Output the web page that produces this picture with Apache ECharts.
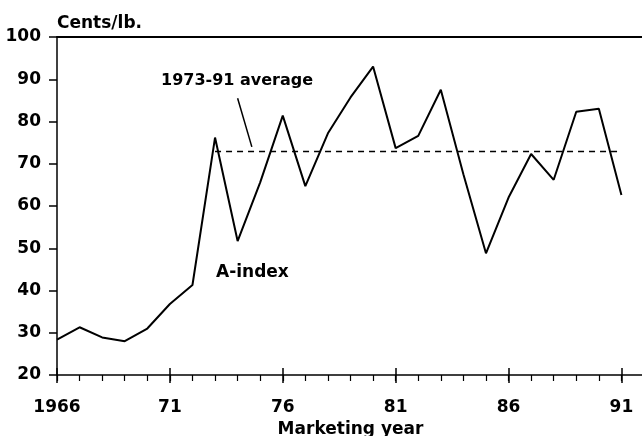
<!DOCTYPE html>
<html>
<head>
<meta charset="utf-8">
<script src="https://cdn.jsdelivr.net/npm/echarts@6/dist/echarts.min.js"></script>
<style>
  html, body { margin: 0; padding: 0; background: #fff; }
  #main { width: 642px; height: 436px; }
</style>
</head>
<body>
<div id="main"></div>
<script>
// A-index, cents/lb., by marketing year
var years = [1966, 1967, 1968, 1969, 1970, 1971, 1972, 1973, 1974, 1975, 1976, 1977, 1978,
  1979, 1980, 1981, 1982, 1983, 1984, 1985, 1986, 1987, 1988, 1989, 1990, 1991];
var aIndex = [28.4, 31.3, 28.9, 28.0, 31.0, 36.8, 41.3, 76.2, 51.7, 65.6, 81.4, 64.7, 77.2,
  85.7, 93.0, 73.7, 76.6, 87.5, 67.5, 48.8, 62.0, 72.3, 66.2, 82.3, 83.0, 62.6];
var avgValue = 72.9;          // 1973-91 average
var avgFrom = 1973, avgTo = 1991;
var majorYears = [1966, 1971, 1976, 1981, 1986, 1991];
var yTicks = [20, 30, 40, 50, 60, 70, 80, 90, 100];

var FONT = "DejaVu Sans";
var lineData = [];
for (var i = 0; i < years.length; i++) lineData.push([years[i], aIndex[i]]);

var chart = echarts.init(document.getElementById("main"));

var gridPos = { left: 57, top: 37, right: -2, bottom: 61, outerBoundsMode: "none", containLabel: false };
var xMin = 1966, xMax = 1992;

function yearLabel(v) {
  if (v == 1966) return "1966";
  return String(v % 100);
}

var option = {
  animation: false,
  backgroundColor: "#fff",
  grid: [
    Object.assign({}, gridPos),
    Object.assign({}, gridPos),
    Object.assign({}, gridPos)
  ],
  xAxis: [
    {
      // main bottom axis: major ticks below + labels
      gridIndex: 0, type: "value", position: "bottom", min: xMin, max: xMax,
      splitLine: { show: false },
      axisLine: { lineStyle: { color: "#000", width: 1.5 } },
      axisTick: { customValues: majorYears, length: 8, lineStyle: { color: "#000", width: 1.5 } },
      axisLabel: {
        customValues: majorYears, formatter: yearLabel, margin: 24,
        color: "#000", fontFamily: FONT, fontWeight: "bold", fontSize: 17
      },
      name: "Marketing year", nameLocation: "middle", nameGap: 43,
      nameTextStyle: { color: "#000", fontFamily: FONT, fontWeight: "bold", fontSize: 17 }
    },
    {
      // top frame line
      gridIndex: 0, type: "value", position: "top", min: xMin, max: xMax,
      splitLine: { show: false },
      axisLine: { lineStyle: { color: "#000", width: 1.8 } },
      axisTick: { show: false }, axisLabel: { show: false }
    },
    {
      // yearly minor ticks
      gridIndex: 1, type: "value", position: "bottom", min: xMin, max: xMax,
      splitLine: { show: false }, axisLine: { show: false },
      axisTick: { customValues: years, length: 6, lineStyle: { color: "#000", width: 1.2 } },
      axisLabel: { show: false }
    },
    {
      // major ticks poking up into the plot
      gridIndex: 2, type: "value", position: "bottom", min: xMin, max: xMax,
      splitLine: { show: false }, axisLine: { show: false },
      axisTick: { customValues: majorYears, inside: true, length: 7, lineStyle: { color: "#000", width: 1.5 } },
      axisLabel: { show: false }
    }
  ],
  yAxis: [
    {
      gridIndex: 0, type: "value", min: 20, max: 100, interval: 10,
      splitLine: { show: false },
      axisLine: { show: true, lineStyle: { color: "#000", width: 1.5 } },
      axisTick: { show: true, length: 8, lineStyle: { color: "#000", width: 1.5 } },
      axisLabel: {
        margin: 16, color: "#000", fontFamily: FONT, fontWeight: "bold", fontSize: 17,
        formatter: function (v) { return yTicks.indexOf(v) >= 0 ? String(v) : ""; }
      },
      name: "Cents/lb.", nameLocation: "end", nameGap: 5,
      nameTextStyle: {
        color: "#000", fontFamily: FONT, fontWeight: "bold", fontSize: 17,
        align: "left", verticalAlign: "bottom"
      }
    },
    { gridIndex: 1, type: "value", min: 20, max: 100, show: false },
    { gridIndex: 2, type: "value", min: 20, max: 100, show: false }
  ],
  series: [
    {
      type: "line",
      xAxisIndex: 0, yAxisIndex: 0,
      data: lineData,
      showSymbol: false,
      symbol: "none",
      lineStyle: { color: "#000", width: 2 },
      markLine: {
        silent: true,
        symbol: "none",
        label: { show: false },
        data: [
          [
            { coord: [avgFrom, avgValue], lineStyle: { color: "#000", width: 1.3, type: [6, 5] } },
            { coord: [avgTo, avgValue] }
          ],
          [
            { coord: [1974.0, 85.5], lineStyle: { color: "#000", width: 1.5, type: "solid" } },
            { coord: [1974.63, 74.0] }
          ]
        ]
      }
    }
  ],
  graphic: [
    {
      type: "text", left: 161, top: 73,
      style: { text: "1973-91 average", fill: "#000", font: "bold 16px 'DejaVu Sans'" }
    },
    {
      type: "text", left: 216, top: 264,
      style: { text: "A-index", fill: "#000", font: "bold 17px 'DejaVu Sans'" }
    }
  ]
};

chart.setOption(option);
</script>
</body>
</html>
